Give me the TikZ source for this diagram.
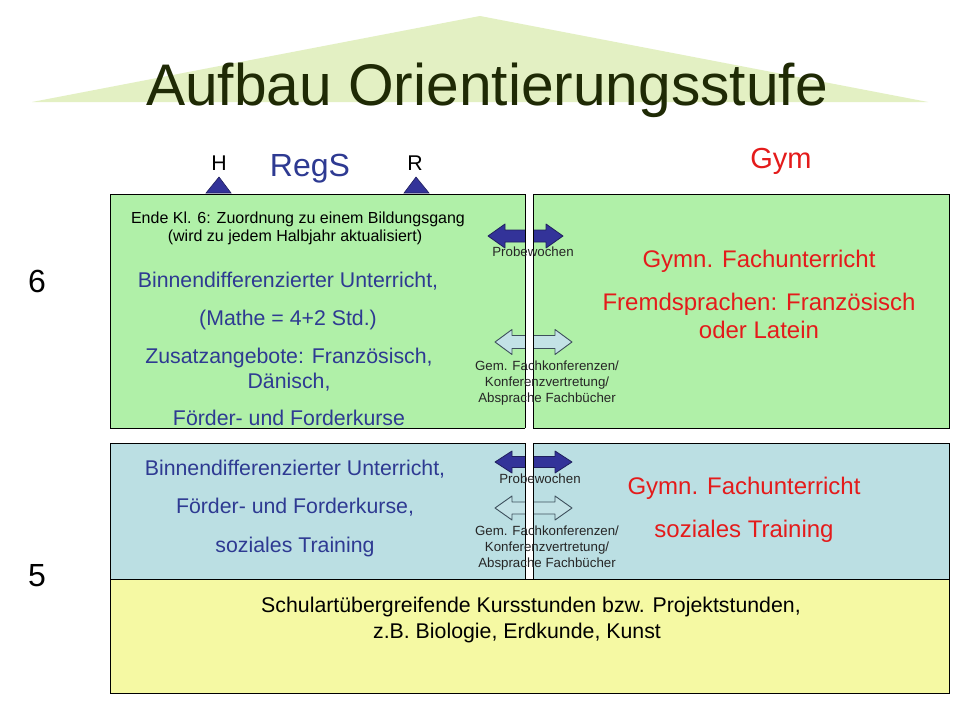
\documentclass[tikz,border=0pt]{standalone}
\usepackage{fontspec}
\setmainfont{Liberation Sans}
\definecolor{titletri}{HTML}{E3F0C3}
\definecolor{titlecol}{HTML}{1F2A05}
\definecolor{boxgreen}{HTML}{B0F0A8}
\definecolor{boxblue}{HTML}{BBDFE3}
\definecolor{boxyellow}{HTML}{F5F9A3}
\definecolor{regblue}{HTML}{2E3A92}
\definecolor{gymred}{HTML}{E41B1B}
\definecolor{darkarrow}{HTML}{333399}
\definecolor{darkarrowline}{HTML}{20205E}
\definecolor{lightarrow}{HTML}{C3E2E6}
\definecolor{lightarrowline}{HTML}{3D4F5C}
\newcommand\dblarrow[6]{%
  \draw[#1] (#2,#4) -- (#2+17,#4-#5) -- (#2+17,#4-#6) -- (#3-17,#4-#6)
    -- (#3-17,#4-#5) -- (#3,#4) -- (#3-17,#4+#5) -- (#3-17,#4+#6)
    -- (#2+17,#4+#6) -- (#2+17,#4+#5) -- cycle;}
\tikzset{
  boxstyle/.style={draw=black, line width=0.9pt},
  txt/.style={anchor=base, inner sep=0pt},
  bluetxt/.style={txt, text=regblue, font=\fontsize{21.3}{25.6}\selectfont},
  redtxt/.style={txt, text=gymred, font=\fontsize{24}{28.8}\selectfont},
  smalltxt/.style={txt, text=black!85, font=\fontsize{13.3}{16}\selectfont},
  midtxt/.style={txt, text=black, font=\fontsize{16}{19.2}\selectfont},
  yeltxt/.style={txt, text=black, font=\fontsize{21.3}{25.6}\selectfont},
  darkarr/.style={fill=darkarrow, draw=darkarrowline, line width=0.8pt, line join=round},
  lightarr/.style={fill=lightarrow, draw=lightarrowline, line width=0.9pt, line join=round},
  marker/.style={fill=darkarrow, draw=darkarrowline, line width=0.6pt},
}
\begin{document}
\begin{tikzpicture}[x=1pt, y=-1pt]
\useasboundingbox (0,0) rectangle (960,720);
\fill[white] (0,0) rectangle (960,720);
% title roof
\fill[titletri] (32,102) -- (480,16) -- (928,102) -- cycle;
\node[txt, text=titlecol, font=\fontsize{58.7}{60}\selectfont] (title) at (487,105) {Aufbau Orientierungsstufe};
% header labels
\node[txt, font=\fontsize{21.3}{25}\selectfont] (lblH) at (219,170) {H};
\node[txt, font=\fontsize{21.3}{25}\selectfont] (lblR) at (415,170) {R};
\node[txt, text=regblue, font=\fontsize{32}{36}\selectfont] (regs) at (310,176) {RegS};
\node[txt, text=gymred, font=\fontsize{29}{33}\selectfont] (gym) at (781,168) {Gym};
\draw[marker] (206,193) -- (219,177) -- (231,193) -- cycle;
\draw[marker] (404,193) -- (416,177) -- (429,193) -- cycle;
% grade numbers
\node[txt, font=\fontsize{32}{36}\selectfont] (six) at (37,292) {6};
\node[txt, font=\fontsize{32}{36}\selectfont] (five) at (37,586) {5};
% boxes
\path[boxstyle, fill=boxgreen] (110,194) rectangle (525,428);
\path[boxstyle, fill=boxgreen] (533,194) rectangle (949,428);
\path[boxstyle, fill=boxblue] (110,443) rectangle (525,579);
\path[boxstyle, fill=boxblue] (533,443) rectangle (949,579);
\path[boxstyle, fill=boxyellow] (110,579) rectangle (949,693);
% arrows
\dblarrow{darkarr}{488}{563}{236}{12}{6}
\dblarrow{lightarr}{495}{572}{342}{12.5}{6.5}
\dblarrow{darkarr}{495}{572}{462}{11}{5.5}
\dblarrow{lightarr}{495}{572}{508}{12}{6}
% white separating stripe over the arrows
\fill[white] (525,193.5) rectangle (533,428.5);
\fill[white] (525,442.5) rectangle (533,579);
\draw[line width=0.9pt] (525,194) -- (525,428) (533,194) -- (533,428);
\draw[line width=0.9pt] (525,443) -- (525,579) (533,443) -- (533,579);
% upper left text
\node[midtxt] (ende1) at (298,223) {Ende Kl. 6: Zuordnung zu einem Bildungsgang};
\node[midtxt] (ende2) at (295,241) {(wird zu jedem Halbjahr aktualisiert)};
\node[bluetxt] (ul1) at (288,287) {Binnendifferenzierter Unterricht,};
\node[bluetxt] (ul2) at (288,325) {(Mathe = 4+2 Std.)};
\node[bluetxt] (ul3) at (289,363) {Zusatzangebote: Französisch,};
\node[bluetxt] (ul4) at (289,388) {Dänisch,};
\node[bluetxt] (ul5) at (289,425) {Förder- und Forderkurse};
% upper right text
\node[redtxt] (ur1) at (759,267) {Gymn. Fachunterricht};
\node[redtxt] (ur2) at (759,310) {Fremdsprachen: Französisch};
\node[redtxt] (ur3) at (759,338) {oder Latein};
% middle labels upper
\node[smalltxt] (pw1) at (533,256) {Probewochen};
\node[smalltxt] (gu1) at (547,370) {Gem. Fachkonferenzen/};
\node[smalltxt] (gu2) at (547,386) {Konferenzvertretung/};
\node[smalltxt] (gu3) at (547,402) {Absprache Fachbücher};
% lower left text
\node[bluetxt] (ll1) at (295,475) {Binnendifferenzierter Unterricht,};
\node[bluetxt] (ll2) at (295,513) {Förder- und Forderkurse,};
\node[bluetxt] (ll3) at (295,552) {soziales Training};
% lower right text
\node[redtxt] (lr1) at (744,494) {Gymn. Fachunterricht};
\node[redtxt] (lr2) at (744,537) {soziales Training};
% middle labels lower
\node[smalltxt] (pw2) at (540,483) {Probewochen};
\node[smalltxt] (gl1) at (547,535) {Gem. Fachkonferenzen/};
\node[smalltxt] (gl2) at (547,551) {Konferenzvertretung/};
\node[smalltxt] (gl3) at (547,567) {Absprache Fachbücher};
% yellow text
\node[yeltxt] (y1) at (531,612) {Schulartübergreifende Kursstunden bzw. Projektstunden,};
\node[yeltxt] (y2) at (517,638) {z.B. Biologie, Erdkunde, Kunst};
\end{tikzpicture}
\end{document}
